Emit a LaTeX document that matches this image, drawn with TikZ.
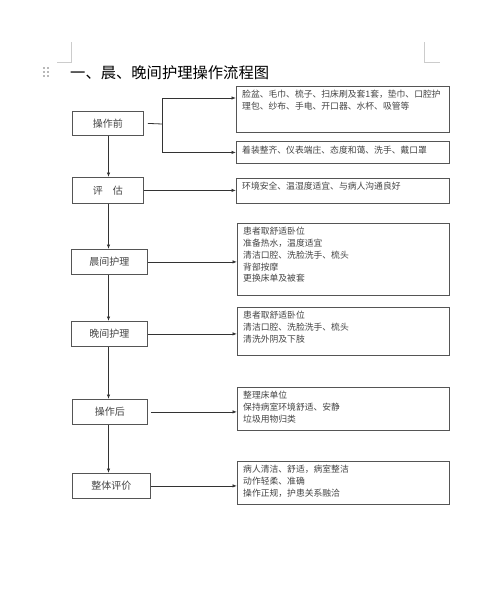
\documentclass[tikz,border=0pt]{standalone}
\usepackage{fontspec}
\setmainfont{Noto Sans CJK SC}
\newfontfamily\cjk{Noto Sans CJK SC}
\usetikzlibrary{arrows.meta}
\definecolor{boxline}{HTML}{555555}
\definecolor{txt}{HTML}{444444}
\definecolor{marks}{HTML}{CCCCCC}
\tikzset{
  flowbox/.style={draw=boxline, line width=0.8pt, text=txt, font=\cjk\fontsize{10}{12}\selectfont, inner sep=0pt, anchor=north west},
  infobox/.style={draw=boxline, line width=0.8pt, anchor=north west},
  infotext/.style={text=txt, font=\cjk\fontsize{8.8}{11.8}\selectfont, align=left, anchor=north west, inner sep=0pt},
  conn/.style={draw=black!80, line width=0.8pt},
  arr/.style={conn, -{Latex[length=4.5pt,width=3.5pt]}},
  cornermark/.style={draw=marks, line width=0.7pt}
}
\begin{document}
\begin{tikzpicture}[x=1pt,y=-1pt]
\useasboundingbox[fill=white] (0,0) rectangle (500,605);
% page corner marks
\draw[cornermark] (71,42) -- (71,62) -- (57,62);
\draw[cornermark] (424,42) -- (424,62) -- (440,62);
% drag handle
\foreach \dx in {44,48} \foreach \dy in {68,72,76} \fill[black!55] (\dx,\dy) circle (0.8);
% title
\node[anchor=west, inner sep=0pt, font=\cjk\fontsize{15.3}{18}\selectfont] (title) at (70,73) {一、晨、晚间护理操作流程图};
% left column boxes
\node[flowbox, minimum width=71, minimum height=24] (b1) at (72,111) {操作前};
\node[flowbox, minimum width=71, minimum height=26] (b2) at (72,177) {评\quad 估};
\node[flowbox, minimum width=76, minimum height=25] (b3) at (71,249) {晨间护理};
\node[flowbox, minimum width=76, minimum height=25] (b4) at (71,321) {晚间护理};
\node[flowbox, minimum width=75, minimum height=25] (b5) at (72,399) {操作后};
\node[flowbox, minimum width=78, minimum height=25] (b6) at (72,473) {整体评价};
% right column boxes
\node[infobox, minimum width=213, minimum height=46] (r1) at (236,86) {};
\node[infotext] (t1) at (242,90) {脸盆、毛巾、梳子、扫床刷及套1套，垫巾、口腔护\\理包、纱布、手电、开口器、水杯、吸管等};
\node[infobox, minimum width=213, minimum height=22] (r2) at (236,141) {};
\node[infotext] (t2) at (242,146) {着装整齐、仪表端庄、态度和蔼、洗手、戴口罩};
\node[infobox, minimum width=213, minimum height=25] (r3) at (236,178) {};
\node[infotext] (t3) at (242,182) {环境安全、温湿度适宜、与病人沟通良好};
\node[infobox, minimum width=212, minimum height=72] (r4) at (237,223) {};
\node[infotext] (t4) at (243,227) {患者取舒适卧位\\准备热水，温度适宜\\清洁口腔、洗脸洗手、梳头\\背部按摩\\更换床单及被套};
\node[infobox, minimum width=212, minimum height=48] (r5) at (237,307) {};
\node[infotext] (t5) at (243,311) {患者取舒适卧位\\清洁口腔、洗脸洗手、梳头\\清洗外阴及下肢};
\node[infobox, minimum width=212, minimum height=43] (r6) at (237,387) {};
\node[infotext] (t6) at (243,391) {整理床单位\\保持病室环境舒适、安静\\垃圾用物归类};
\node[infobox, minimum width=212, minimum height=43] (r7) at (237,461) {};
\node[infotext] (t7) at (243,465) {病人清洁、舒适，病室整洁\\动作轻柔、准确\\操作正规，护患关系融洽};
% branch from 操作前
\coordinate (j1) at (162,124);
\draw[conn] ([xshift=4pt]b1.east) -- (j1);
\draw[arr] (j1) |- (r1.west |- 0,98);
\draw[arr] (j1) |- (r2.west);
% vertical flow
\draw[arr] (b1.south -| 108.5,0) -- (b2.north -| 108.5,0);
\draw[arr] (b2.south -| 108.5,0) -- (b3.north -| 108.5,0);
\draw[arr] (b3.south -| 108.5,0) -- (b4.north -| 108.5,0);
\draw[arr] (b4.south -| 108.5,0) -- (b5.north -| 108.5,0);
\draw[arr] (b5.south -| 108.5,0) -- (b6.north -| 108.5,0);
% horizontal arrows
\draw[arr] (b2.east) -- (r3.west |- b2.east);
\draw[arr] (b3.east) -- (r4.west |- b3.east);
\draw[arr] (b4.east) -- (r5.west |- b4.east);
\draw[arr] ([xshift=3pt]b5.east) -- (r6.west |- b5.east);
\draw[arr] (b6.east) -- (r7.west |- b6.east);
\end{tikzpicture}
\end{document}
